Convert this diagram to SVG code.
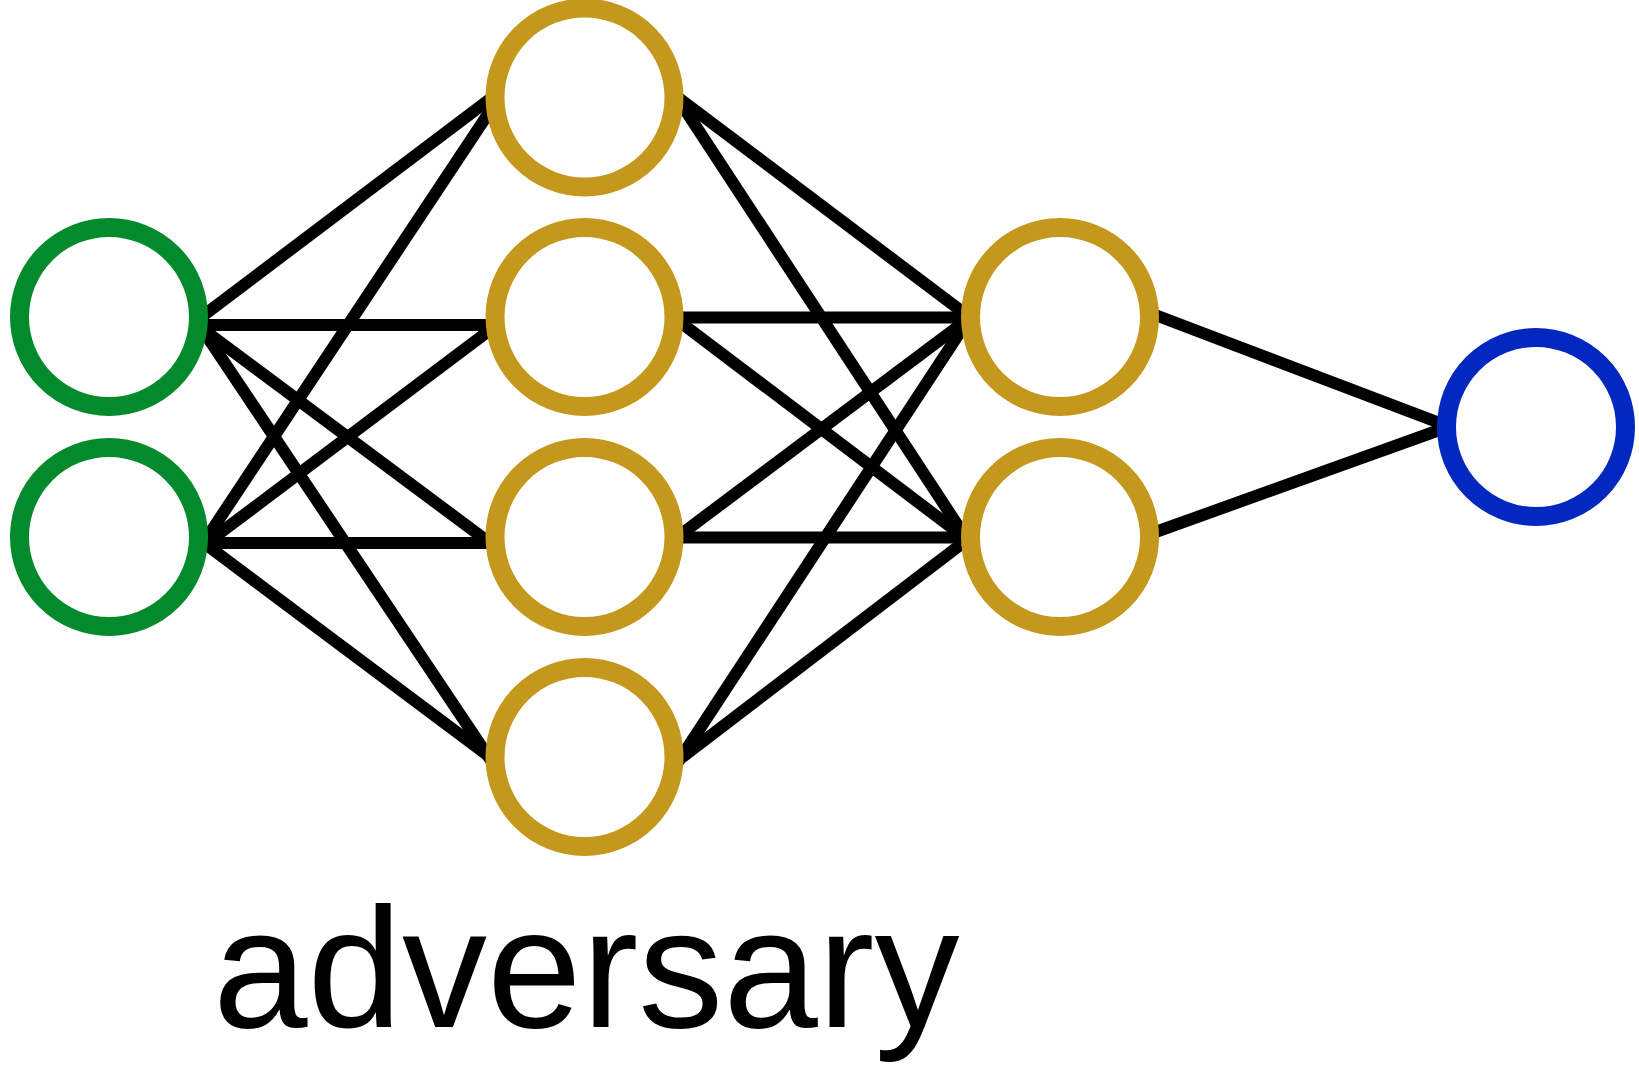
<svg xmlns="http://www.w3.org/2000/svg" width="1639" height="1066" viewBox="0 0 1639 1066">
<style>
.n{fill:#fff;stroke-width:19}
.in{stroke:#038a2c}
.hid{stroke:#c4981c}
.out{stroke:#0328c0}
.e{stroke:#000;stroke-width:12;fill:none}
.t{font-family:"Liberation Sans",Arial,sans-serif;font-size:170px;fill:#000}
</style>
<rect width="1639" height="1066" fill="#fff"/>
<g id="connectors">
<line class="e" x1="200" y1="318" x2="494" y2="96"/>
<line class="e" x1="200" y1="325" x2="494" y2="325"/>
<line class="e" x1="200" y1="327" x2="494" y2="546"/>
<line class="e" x1="200" y1="326" x2="494" y2="765"/>
<line class="e" x1="200" y1="548" x2="494" y2="105"/>
<line class="e" x1="200" y1="548" x2="494" y2="327"/>
<line class="e" x1="200" y1="543" x2="494" y2="543"/>
<line class="e" x1="200" y1="540" x2="494" y2="760"/>
<line class="e" x1="676" y1="96" x2="968" y2="316"/>
<line class="e" x1="676" y1="96" x2="968" y2="541"/>
<line class="e" x1="676" y1="317.5" x2="968" y2="317.5"/>
<line class="e" x1="676" y1="319" x2="968" y2="540"/>
<line class="e" x1="676" y1="538" x2="968" y2="319"/>
<line class="e" x1="676" y1="537.5" x2="968" y2="537.5"/>
<line class="e" x1="676" y1="765" x2="968" y2="320"/>
<line class="e" x1="676" y1="762" x2="968" y2="539"/>
<line class="e" x1="1150" y1="313" x2="1445" y2="425"/>
<line class="e" x1="1150" y1="534" x2="1445" y2="428"/>
</g>
<g id="in1"><circle class="n in" cx="109" cy="317" r="89.5"/></g>
<g id="in2"><circle class="n in" cx="109" cy="537" r="89.5"/></g>
<g id="h1a"><circle class="n hid" cx="584.5" cy="97.5" r="89.5"/></g>
<g id="h1b"><circle class="n hid" cx="584.5" cy="317" r="89.5"/></g>
<g id="h1c"><circle class="n hid" cx="584.5" cy="537" r="89.5"/></g>
<g id="h1d"><circle class="n hid" cx="584.5" cy="757" r="89.5"/></g>
<g id="h2a"><circle class="n hid" cx="1060" cy="317" r="89.5"/></g>
<g id="h2b"><circle class="n hid" cx="1060" cy="537" r="89.5"/></g>
<g id="out"><circle class="n out" cx="1536" cy="427" r="89.5"/></g>
<text class="t" x="213" y="1027">adversary</text>
</svg>
